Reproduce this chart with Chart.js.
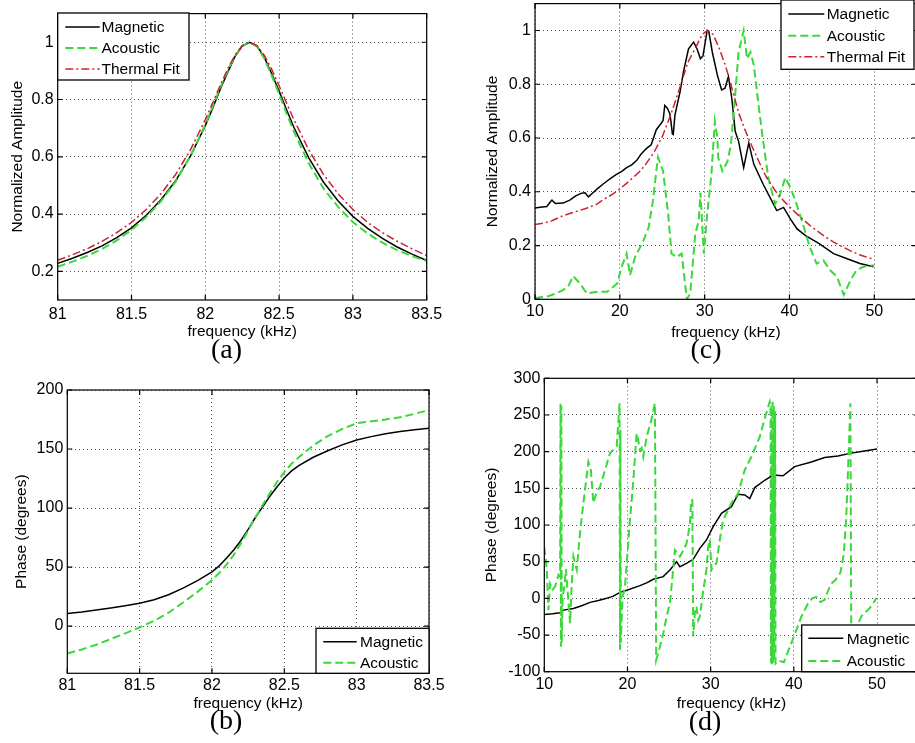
<!DOCTYPE html>
<html><head><meta charset="utf-8">
<script src="https://cdn.jsdelivr.net/npm/chart.js@4.4.1/dist/chart.umd.min.js"></script>
<style>
html,body{margin:0;padding:0;background:#fff;width:915px;height:743px;overflow:hidden;position:relative;}
canvas{position:absolute;}
.cap{position:absolute;font-family:"Liberation Serif","DejaVu Serif",serif;font-size:28px;line-height:1;color:#000;transform:translate(-50%,-50%);white-space:nowrap;}
</style></head><body>
<canvas id="ca" width="450" height="370" style="left:0;top:0"></canvas>
<canvas id="cb" width="450" height="368" style="left:0;top:375px"></canvas>
<canvas id="cc" width="480" height="380" style="left:455px;top:-10px"></canvas>
<canvas id="cd" width="480" height="383" style="left:455px;top:360px"></canvas>
<div class="cap" style="left:226.5px;top:349px">(a)</div>
<div class="cap" style="left:706px;top:349px">(c)</div>
<div class="cap" style="left:226px;top:720px">(b)</div>
<div class="cap" style="left:705px;top:721px">(d)</div>
<script>
// ---------------- DATA ----------------
const seriesNames = ['Magnetic', 'Acoustic', 'Thermal Fit'];

// (a) normalized amplitude, narrow band
const aFreq     = [81.0,81.1,81.2,81.3,81.4,81.5,81.6,81.7,81.8,81.9,82.0,82.05,82.1,82.15,82.2,82.25,82.3,82.35,82.4,82.45,82.5,82.55,82.6,82.7,82.8,82.9,83.0,83.1,83.2,83.3,83.4,83.5];
const aMagnetic = [0.228,0.246,0.266,0.289,0.318,0.352,0.396,0.450,0.517,0.603,0.709,0.770,0.834,0.893,0.949,0.987,1.0,0.987,0.947,0.890,0.830,0.765,0.703,0.597,0.512,0.446,0.392,0.350,0.315,0.285,0.260,0.238];
const aAcoustic = [0.216,0.234,0.254,0.278,0.308,0.345,0.390,0.445,0.514,0.603,0.712,0.775,0.840,0.898,0.952,0.988,1.0,0.985,0.943,0.883,0.820,0.752,0.688,0.578,0.490,0.425,0.372,0.332,0.300,0.274,0.253,0.236];
const aThermal  = [0.239,0.258,0.279,0.305,0.335,0.371,0.416,0.471,0.539,0.625,0.730,0.788,0.848,0.905,0.954,0.988,1.0,0.988,0.954,0.905,0.848,0.788,0.730,0.625,0.539,0.471,0.416,0.371,0.335,0.305,0.279,0.255];

// (b) phase, narrow band
const bFreq     = [81.0,81.1,81.2,81.3,81.4,81.5,81.6,81.7,81.8,81.9,82.0,82.05,82.1,82.15,82.2,82.25,82.3,82.35,82.4,82.45,82.5,82.55,82.6,82.7,82.8,82.9,83.0,83.1,83.2,83.3,83.4,83.5];
const bMagnetic = [10.7,12.0,13.6,15.3,17.2,19.3,22.3,26.5,32.2,38.5,46.0,51,57.5,64.4,72.5,82,92,101,110,118,125.5,131.5,136,143,148.5,153.5,157.6,160.5,163,164.8,166.3,167.5];
const bAcoustic = [-23.2,-19.8,-15.8,-11,-6.2,-1.1,4.5,11.3,20,29,39,45,52,60.2,70,81,92,102.5,112.5,122.3,130.5,137.5,143,153,161,167,171.8,173.5,175,177,179.8,183];

// (c) normalized amplitude, wide band
const cMagFreq  = [10.0,10.6,11.4,11.8,12.0,12.4,13.3,14.1,14.8,15.5,15.9,16.3,16.6,17.0,17.3,18.0,18.5,19.0,19.6,20.2,20.8,21.4,22.0,22.5,23.0,23.3,23.7,24.3,24.9,25.1,25.3,25.6,25.9,26.0,26.2,26.3,26.5,27.1,27.5,28.1,28.7,29.1,29.5,29.8,30.3,30.5,30.9,31.5,32.0,32.4,32.8,33.2,33.6,34.0,34.6,35.2,35.8,36.9,37.9,38.5,39.3,40.1,40.9,41.9,43.5,45.2,46.8,48.3,49.9];
const cMagnetic = [0.34,0.342,0.345,0.362,0.369,0.356,0.358,0.369,0.385,0.395,0.396,0.381,0.39,0.401,0.41,0.428,0.44,0.452,0.465,0.475,0.49,0.5,0.517,0.54,0.557,0.565,0.575,0.631,0.656,0.665,0.721,0.711,0.69,0.668,0.615,0.613,0.686,0.772,0.846,0.932,0.957,0.932,0.895,0.905,1.0,0.995,0.92,0.834,0.779,0.785,0.828,0.748,0.625,0.588,0.49,0.582,0.502,0.428,0.367,0.33,0.342,0.299,0.262,0.237,0.207,0.17,0.151,0.133,0.121];
const cAcoFreq  = [10.0,11.4,12.5,13.3,13.9,14.5,15.3,16.1,17.3,18.5,19.7,20.2,20.8,21.2,21.8,22.4,22.8,23.4,23.9,24.5,25.1,25.7,26.1,26.7,27.3,27.9,28.3,28.9,29.3,29.5,29.9,30.3,30.8,31.2,31.5,31.6,32.1,32.7,33.1,33.6,34.0,34.6,35.0,35.4,35.8,36.3,36.9,37.5,38.3,38.9,39.5,40.1,40.7,41.7,42.4,43.2,44.0,44.8,45.6,46.4,47.2,47.9,48.7,50.0];
const cAcoustic = [0.005,0.01,0.022,0.034,0.047,0.086,0.059,0.022,0.028,0.028,0.059,0.12,0.17,0.09,0.157,0.194,0.219,0.268,0.367,0.529,0.477,0.317,0.17,0.157,0.17,0.0,0.022,0.244,0.293,0.397,0.17,0.317,0.465,0.662,0.6,0.527,0.477,0.514,0.576,0.76,0.92,1.0,0.895,0.92,0.871,0.736,0.588,0.453,0.354,0.391,0.453,0.416,0.367,0.268,0.194,0.133,0.145,0.108,0.084,0.016,0.071,0.108,0.121,0.127];
const cFitFreq  = [10,11,12,13.3,14,15,16,17.3,18,19,20,21,22.4,23,24,25,26,27,28,29,29.7,30.4,31,31.7,32.5,33.3,34,34.7,35.5,36.5,37.3,38.3,39.3,40.3,41.3,42.3,43.2,44.2,45.2,46.2,47.2,48.5,50];
const cThermal  = [0.278,0.283,0.292,0.311,0.318,0.328,0.338,0.354,0.37,0.388,0.41,0.437,0.477,0.5,0.545,0.605,0.686,0.78,0.88,0.94,0.985,1.0,0.985,0.935,0.865,0.775,0.695,0.635,0.575,0.505,0.453,0.405,0.367,0.335,0.305,0.278,0.256,0.233,0.213,0.196,0.18,0.163,0.148];

// (d) phase, wide band
const dMagFreq  = [10.0,11.0,11.9,12.3,13.5,14.5,15.5,16.5,17.5,18.3,19.1,20.0,21.5,22.3,23.1,24.3,25.1,25.9,26.3,27.1,27.9,28.7,29.5,30.3,31.3,32.5,33.3,34.1,34.7,35.3,36.5,37.5,38.7,40.1,42.1,43.7,45.3,46.9,48.5,50.0];
const dMagnetic = [-22,-21,-19.6,-16,-13.7,-10,-5.5,-3,0,3,8.2,11.4,17.3,21,26,29.6,38.7,50,43.2,47.7,53.2,68.2,79.6,97.8,116,125,142,141,136,151,161,168,167,179.6,186,192,194,198,201,203.5];
const dAcoFreq  = [10.0,10.3,10.5,10.7,11.0,11.3,11.7,11.9,11.95,12.0,12.05,12.1,12.2,12.4,12.6,12.8,13.1,13.3,13.5,13.9,14.3,14.7,15.3,15.6,15.9,16.3,16.7,17.3,17.9,18.7,19.05,19.1,19.15,19.2,19.4,19.7,20.3,20.7,21.1,21.3,21.5,21.7,21.9,22.3,22.8,23.3,23.45,23.8,24.3,24.7,25.1,25.5,25.7,26.0,26.3,26.7,27.1,27.5,27.65,27.8,27.9,28.1,28.3,28.5,28.7,29.1,29.5,29.7,29.9,30.1,30.3,30.7,31.1,31.5,32.0,32.5,33.3,34.1,34.9,35.9,36.5,37.1,37.2,37.25,37.3,37.35,37.45,37.5,37.6,37.65,37.75,37.8,38.2,38.8,39.7,40.9,41.7,42.2,42.7,43.2,43.7,44.1,44.5,45.0,45.6,46.0,46.3,46.6,46.8,46.9,47.5,48.1,48.5,48.9,49.5,49.9];
const dAcoustic = [70,40,-16,20,12,16,32,30,266,-66,262,-60,0,16,40,10,-34,20,57,39,90,130,186,175,130,145,152,175,198,207,266,-70,230,-60,0,16,107,160,225,215,202,205,193,220,240,266,-84,-70,-48,-25,-7,40,66,62,57,65,75,100,134,134,-52,-20,-11,-30,-25,10,39,70,80,39,43,48,80,107,118,130,143,175,193,220,245,268,262,-88,265,-90,268,-88,262,-85,255,-89,-85,-87,-61,-25,-7,0,2,-5,-2,10,20,25,35,60,110,200,266,-40,-40,-25,-20,-16,-8,0];

// axis ticks
const aXTicks = [81, 81.5, 82, 82.5, 83, 83.5];
const aYTicks = [0.2, 0.4, 0.6, 0.8, 1];
const bXTicks = [81, 81.5, 82, 82.5, 83, 83.5];
const bYTicks = [0, 50, 100, 150, 200];
const cXTicks = [10, 20, 30, 40, 50];
const cYTicks = [0, 0.2, 0.4, 0.6, 0.8, 1];
const dXTicks = [10, 20, 30, 40, 50];
const dYTicks = [-100, -50, 0, 50, 100, 150, 200, 250, 300];

// ---------------- STYLE / BUILD ----------------
const FONT = '"Liberation Sans", Arial, Helvetica, sans-serif';
Chart.defaults.font.family = FONT;
Chart.defaults.color = '#000';

const STYLES = {
  'Magnetic':    {borderColor: '#000000', borderWidth: 1.5, borderDash: [], order: 3},
  'Acoustic':    {borderColor: '#3ad83a', borderWidth: 2, borderDash: [8, 4], order: 2},
  'Thermal Fit': {borderColor: '#cc2230', borderWidth: 1.5, borderDash: [8, 3, 2, 3], order: 1}
};
const zip = (xs, ys) => xs.map((x, i) => ({x: x, y: ys[i]}));
function ds(name, xs, ys) {
  return Object.assign({label: name, data: zip(xs, ys), pointRadius: 0, pointHoverRadius: 0, tension: 0, fill: false}, STYLES[name]);
}
const fmt = v => String(Number(Number(v).toFixed(3)));

const frame = {
  id: 'frame',
  afterDatasetsDraw(chart) {
    const {ctx, chartArea: a, scales: {x, y}} = chart;
    ctx.save();
    ctx.setLineDash([]);
    ctx.strokeStyle = '#000';
    ctx.lineWidth = 1.2;
    ctx.strokeRect(a.left, a.top, a.right - a.left, a.bottom - a.top);
    ctx.beginPath();
    x.ticks.forEach(t => {
      const p = x.getPixelForValue(t.value);
      ctx.moveTo(p, a.bottom); ctx.lineTo(p, a.bottom - 5);
      ctx.moveTo(p, a.top); ctx.lineTo(p, a.top + 5);
    });
    y.ticks.forEach(t => {
      const p = y.getPixelForValue(t.value);
      ctx.moveTo(a.left, p); ctx.lineTo(a.left + 5, p);
      ctx.moveTo(a.right, p); ctx.lineTo(a.right - 5, p);
    });
    ctx.stroke();
    ctx.restore();
  }
};

const mlegend = {
  id: 'mlegend',
  afterDraw(chart, args, o) {
    if (!o || !o.box) return;
    const ctx = chart.ctx;
    const b = o.box;
    ctx.save();
    ctx.fillStyle = '#fff';
    ctx.fillRect(b[0], b[1], b[2] - b[0], b[3] - b[1]);
    ctx.strokeStyle = '#000';
    ctx.lineWidth = 1.3;
    ctx.setLineDash([]);
    ctx.strokeRect(b[0], b[1], b[2] - b[0], b[3] - b[1]);
    ctx.font = '15.5px ' + FONT;
    ctx.textBaseline = 'middle';
    ctx.textAlign = 'left';
    chart.data.datasets.forEach((d, i) => {
      const yy = o.rows[i];
      ctx.beginPath();
      ctx.setLineDash(d.borderDash || []);
      ctx.strokeStyle = d.borderColor;
      ctx.lineWidth = d.borderWidth;
      ctx.moveTo(o.line[0], yy);
      ctx.lineTo(o.line[1], yy);
      ctx.stroke();
      ctx.setLineDash([]);
      ctx.fillStyle = '#000';
      ctx.fillText(d.label, o.textX, yy + 1);
    });
    ctx.restore();
  }
};

function build(id, p) {
  return new Chart(document.getElementById(id), {
    type: 'line',
    data: {datasets: p.datasets},
    plugins: [frame, mlegend],
    options: {
      responsive: false,
      animation: false,
      events: [],
      layout: {padding: {left: 0, top: p.padTop, right: p.padRight, bottom: 0}},
      plugins: {legend: {display: false}, tooltip: {enabled: false}, mlegend: p.legend},
      scales: {
        x: {
          type: 'linear', position: 'bottom', min: p.xMin, max: p.xMax,
          afterBuildTicks: s => { s.ticks = p.xTicks.map(v => ({value: v})); },
          afterFit: s => { s.height = p.xAxisH; },
          ticks: {autoSkip: false, maxRotation: 0, padding: p.xTickPad, font: {size: 16}, color: '#000', callback: fmt},
          grid: {color: '#555', lineWidth: 1, drawTicks: false},
          border: {display: false, dash: [1, 3]},
          title: {display: true, text: 'frequency (kHz)', font: {size: 15.5}, color: '#000', padding: {top: 0, bottom: p.xTitlePad}}
        },
        y: {
          type: 'linear', position: 'left', min: p.yMin, max: p.yMax,
          afterBuildTicks: s => { s.ticks = p.yTicks.map(v => ({value: v})); },
          afterFit: s => { s.width = p.yAxisW; },
          ticks: {autoSkip: false, padding: 4, font: {size: 16}, color: '#000', callback: fmt},
          grid: {color: '#555', lineWidth: 1, drawTicks: false},
          border: {display: false, dash: [1, 3]},
          title: {display: true, text: p.yTitle, font: {size: 15.5}, color: '#000', padding: {top: p.yTitlePad, bottom: 0}}
        }
      }
    }
  });
}

build('ca', {
  datasets: [ds('Magnetic', aFreq, aMagnetic), ds('Acoustic', aFreq, aAcoustic), ds('Thermal Fit', aFreq, aThermal)],
  xMin: 81, xMax: 83.5, yMin: 0.1, yMax: 1.1, xTicks: aXTicks, yTicks: aYTicks,
  yTitle: 'Normalized Amplitude', yAxisW: 57.7, xAxisH: 70, padTop: 13, padRight: 23.3,
  xTickPad: 5, xTitlePad: 29, yTitlePad: 8.3,
  legend: {box: [57.7, 13, 189, 80], line: [65.3, 99.7], textX: 101.5, rows: [27, 48, 69]}
});
build('cb', {
  datasets: [ds('Magnetic', bFreq, bMagnetic), ds('Acoustic', bFreq, bAcoustic)],
  xMin: 81, xMax: 83.5, yMin: -40, yMax: 200, xTicks: bXTicks, yTicks: bYTicks,
  yTitle: 'Phase (degrees)', yAxisW: 67.3, xAxisH: 69.7, padTop: 15, padRight: 21,
  xTickPad: 3, xTitlePad: 29.7, yTitlePad: 12.2,
  legend: {box: [316, 253.3, 429, 298.3], line: [323.3, 356.7], textX: 360, rows: [266.7, 287.7]}
});
build('cc', {
  datasets: [ds('Magnetic', cMagFreq, cMagnetic), ds('Acoustic', cAcoFreq, cAcoustic), ds('Thermal Fit', cFitFreq, cThermal)],
  xMin: 10, xMax: 55, yMin: 0, yMax: 1.1, xTicks: cXTicks, yTicks: cYTicks,
  yTitle: 'Normalized Amplitude', yAxisW: 80, xAxisH: 70.7, padTop: 11, padRight: 18.3,
  xTickPad: 3, xTitlePad: 28.2, yTitlePad: 28.7,
  legend: {box: [326, 10, 459, 79.3], line: [333.3, 369.3], textX: 371.7, rows: [24, 45.7, 66.7]}
});
build('cd', {
  datasets: [ds('Magnetic', dMagFreq, dMagnetic), ds('Acoustic', dAcoFreq, dAcoustic)],
  xMin: 10, xMax: 55, yMin: -100, yMax: 300, xTicks: dXTicks, yTicks: dYTicks,
  yTitle: 'Phase (degrees)', yAxisW: 89.3, xAxisH: 71.3, padTop: 18.3, padRight: 16.4,
  xTickPad: 3, xTitlePad: 30, yTitlePad: 27.4,
  legend: {box: [346.7, 265, 470, 311.7], line: [353.3, 388.3], textX: 391.7, rows: [278.3, 301]}
});
</script>
</body></html>
